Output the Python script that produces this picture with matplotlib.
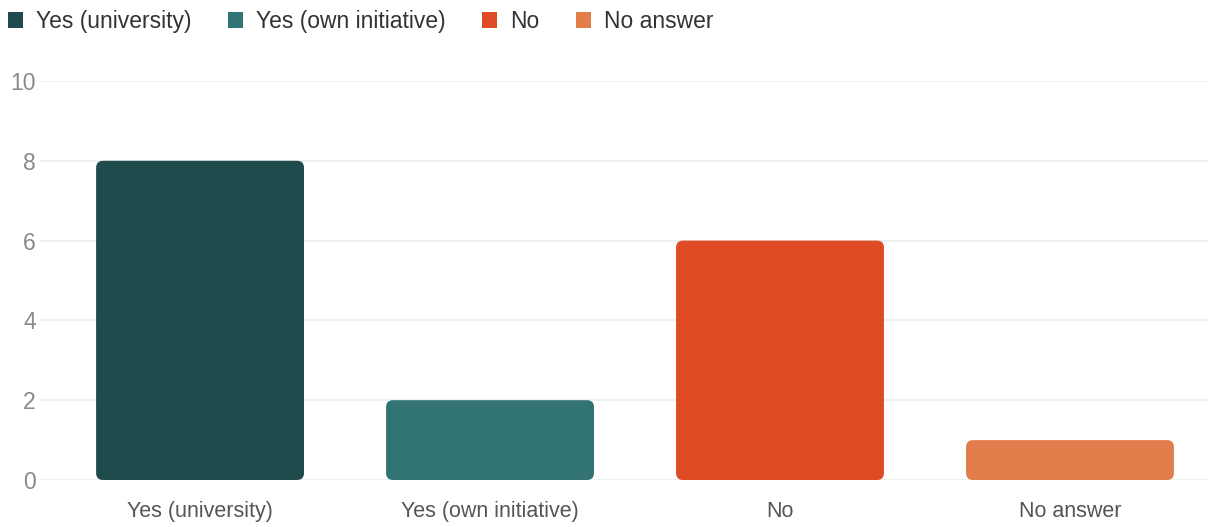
import matplotlib.pyplot as plt
from matplotlib.patches import FancyBboxPatch, Patch

# data
categories = ['Yes (university)', 'Yes (own initiative)', 'No', 'No answer']
counts = [8, 2, 6, 1]
colors = ['#204b4c', '#317473', '#de4b24', '#e17e4b']
yticks = [0, 2, 4, 6, 8, 10]

plt.rcParams['font.family'] = ['Liberation Sans', 'DejaVu Sans']

fig = plt.figure(figsize=(12.08, 5.27), dpi=100, facecolor='white')
ax = fig.add_axes([40 / 1208, 47 / 527, 1168 / 1208, 399 / 527], frameon=False)

xs = list(range(len(categories)))
bars = ax.bar(xs, counts, width=0.717, color=colors)

ax.set_xlim(-0.552, 3.476)
ax.set_ylim(0, 10)

# swap the plain bars for rounded ones (radius ~7px)
px_x = 1168 / (3.476 + 0.552)
px_y = 399 / 10.0
r = 7 / px_x
for b in bars:
    x, y = b.get_x(), b.get_y()
    w, h = b.get_width(), b.get_height()
    b.set_visible(False)
    p = FancyBboxPatch((x, y), w, h, boxstyle='round,pad=0,rounding_size=%f' % r,
                       mutation_aspect=px_x / px_y, fc=b.get_facecolor(), ec='none', zorder=3)
    ax.add_patch(p)

ax.set_yticks(yticks)
ax.yaxis.grid(True, color='#e8eded', linewidth=1.2)
ax.set_axisbelow(True)
ax.tick_params(axis='y', length=0, pad=3, labelsize=16.5, labelcolor='#8a8a8a')
ax.set_xticks(xs)
ax.set_xticklabels(categories)
ax.tick_params(axis='x', length=0, pad=15, labelsize=15.5, labelcolor='#555555')

handles = [Patch(facecolor=c, edgecolor='none') for c in colors]
fig.legend(handles, categories, loc='upper left', bbox_to_anchor=(8 / 1208, 1 - 10 / 527), ncol=4,
           frameon=False, fontsize=16.5, handlelength=0.65, handleheight=0.65,
           handletextpad=0.55, columnspacing=1.62, borderpad=0, borderaxespad=0,
           labelcolor='#333333')

fig.savefig('out.png', dpi=100, facecolor='white')
